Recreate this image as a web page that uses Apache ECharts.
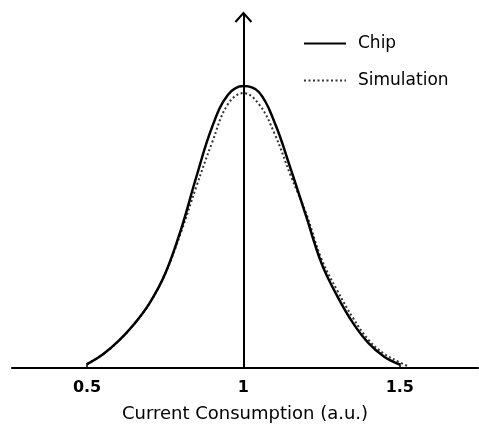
<!DOCTYPE html>
<html>
<head>
<meta charset="utf-8">
<script src="https://cdn.jsdelivr.net/npm/echarts@6/dist/echarts.min.js"></script>
<style>
  html, body { margin: 0; padding: 0; background: #fff; }
  #chart { width: 479px; height: 425px; }
</style>
</head>
<body>
<div id="chart"></div>
<script>
// Current consumption grid (a.u.)
const xValues = [0.50, 0.55, 0.60, 0.65, 0.70, 0.75, 0.80, 0.85, 0.90, 0.95, 1.00,
                 1.05, 1.10, 1.15, 1.20, 1.25, 1.30, 1.35, 1.40, 1.45, 1.50];

// Measured chip distribution (normalised to its peak)
const chipY = [0.014, 0.048, 0.095, 0.155, 0.23, 0.335, 0.49, 0.68, 0.855, 0.968, 1.0,
               0.978, 0.87, 0.71, 0.54, 0.37, 0.255, 0.16, 0.088, 0.04, 0.012];

// Simulated distribution (same grid plus a short tail)
const simX = xValues.concat([1.53]);
const simY = [0.014, 0.048, 0.095, 0.155, 0.23, 0.335, 0.48, 0.645, 0.80, 0.935, 0.975,
              0.935, 0.83, 0.685, 0.55, 0.385, 0.275, 0.178, 0.10, 0.05, 0.02, 0.004];

const tickValues = [0.5, 1, 1.5];
const xMin = 0.26, xMax = 1.75;
const yMax = 1.259;
const axisName = 'Current Consumption (a.u.)';

const pairs = (xs, ys) => xs.map((x, i) => [x, ys[i]]);

const chart = echarts.init(document.getElementById('chart'), null, { renderer: 'canvas' });

const option = {
  animation: false,
  backgroundColor: '#fff',
  grid: { left: 12, right: 1, top: 13, bottom: 57, containLabel: false, outerBoundsMode: 'none' },
  legend: {
    orient: 'vertical',
    left: 303,
    top: 35,
    padding: 0,
    itemWidth: 42,
    itemHeight: 14,
    itemGap: 20,
    itemStyle: { opacity: 0 },
    textStyle: { fontFamily: 'DejaVu Sans', fontSize: 17, color: '#000', padding: [0, 0, 0, 7] },
    data: ['Chip', 'Simulation']
  },
  xAxis: {
    type: 'value',
    min: xMin,
    max: xMax,
    name: axisName,
    nameLocation: 'middle',
    nameGap: 37,
    nameTextStyle: { fontFamily: 'DejaVu Sans', fontSize: 18, color: '#000' },
    axisLine: { show: true, lineStyle: { color: '#000', width: 2 } },
    axisTick: { show: true, inside: true, length: 5, customValues: [0.5, 1.5], lineStyle: { color: '#000', width: 1.5 } },
    axisLabel: {
      customValues: tickValues,
      margin: 12,
      fontFamily: 'DejaVu Sans',
      fontWeight: 'bold',
      fontSize: 16,
      color: '#000'
    },
    splitLine: { show: false }
  },
  yAxis: {
    type: 'value',
    min: 0,
    max: yMax,
    show: false
  },
  series: [
    {
      name: 'Chip',
      type: 'line',
      data: pairs(xValues, chipY),
      smooth: 0.4,
      symbol: 'none',
      lineStyle: { color: '#000', width: 2.5 },
      itemStyle: { color: '#000' },
      z: 3,
      markLine: {
        silent: true,
        symbol: 'none',
        label: { show: false },
        lineStyle: { color: '#000', width: 2, type: 'solid' },
        data: [{ xAxis: 1 }]
      }
    },
    {
      name: 'Simulation',
      type: 'line',
      data: pairs(simX, simY),
      smooth: 0.4,
      symbol: 'none',
      lineStyle: { color: '#333', width: 2, type: [2, 2.5] },
      itemStyle: { color: '#333' },
      z: 2
    }
  ]
};

chart.setOption(option);

// Open arrow head at the top of the vertical axis
const tip = chart.convertToPixel({ gridIndex: 0 }, [1, yMax]);
chart.setOption({
  graphic: [{
    type: 'polyline',
    shape: { points: [[tip[0] - 8, tip[1] + 9], [tip[0], tip[1]], [tip[0] + 8, tip[1] + 9]] },
    style: { stroke: '#000', lineWidth: 2, fill: null },
    z: 10
  }]
});
</script>
</body>
</html>
